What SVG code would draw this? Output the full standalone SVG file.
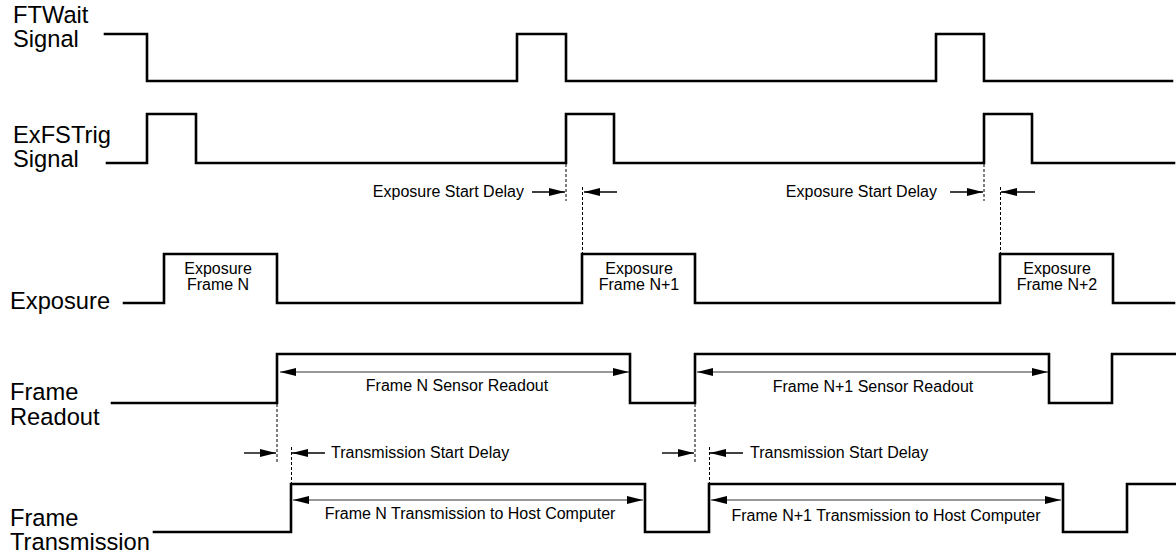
<svg xmlns="http://www.w3.org/2000/svg" width="1176" height="557" viewBox="0 0 1176 557">
<style>
.sig{fill:none;stroke:#000;stroke-width:2.6;stroke-linejoin:miter;stroke-linecap:square}
.dash{fill:none;stroke:#000;stroke-width:1;stroke-dasharray:3,2}
.dly{fill:none;stroke:#000;stroke-width:1.4}
.span{fill:none;stroke:#333;stroke-width:1.2}
.big{font-family:"Liberation Sans",Arial,sans-serif;font-size:23.7px;fill:#000}
.sm{font-family:"Liberation Sans",Arial,sans-serif;font-size:16px;fill:#000}
.mid{text-anchor:middle}
.end{text-anchor:end}
</style>
<defs>
<marker id="ah" viewBox="0 0 16 8" refX="16" refY="4" markerWidth="16" markerHeight="8" markerUnits="userSpaceOnUse" orient="auto-start-reverse">
<path d="M0,0 L16,4 L0,8 Z" fill="#000"/>
</marker>
</defs>
<g id="labels">
<text class="big" x="13" y="23">FTWait</text>
<text class="big" x="13" y="47">Signal</text>
<text class="big" x="13" y="143">ExFSTrig</text>
<text class="big" x="13" y="167">Signal</text>
<text class="big" x="10" y="309">Exposure</text>
<text class="big" x="10" y="400">Frame</text>
<text class="big" x="10" y="425">Readout</text>
<text class="big" x="10" y="526">Frame</text>
<text class="big" x="10" y="550">Transmission</text>
</g>
<g id="ftwait">
<path class="sig" d="M105,34 H147 V81 H517 V34 H566 V81 H936 V34 H984 V81 H1172"/>
</g>
<g id="exfstrig">
<path class="sig" d="M107,163 H147 V114 H196 V163 H566 V114 H614 V163 H984 V114 H1032 V163 H1174"/>
</g>
<g id="exposure">
<path class="sig" d="M124,303 H164 V254 H277 V303 H582 V254 H695 V303 H1000 V254 H1113 V303 H1174"/>
<text class="sm mid" x="218" y="274">Exposure</text>
<text class="sm mid" x="218" y="290">Frame N</text>
<text class="sm mid" x="639" y="274">Exposure</text>
<text class="sm mid" x="639" y="290">Frame N+1</text>
<text class="sm mid" x="1057" y="274">Exposure</text>
<text class="sm mid" x="1057" y="290">Frame N+2</text>
</g>
<g id="readout">
<path class="sig" d="M112,403 H277 V354 H630 V403 H695 V354 H1049 V403 H1112 V354 H1176"/>
<text class="sm mid" x="457" y="391">Frame N Sensor Readout</text>
<text class="sm mid" x="873" y="392">Frame N+1 Sensor Readout</text>
</g>
<g id="transmission">
<path class="sig" d="M154,532 H291 V484 H645 V532 H709 V484 H1063 V532 H1127 V484 H1176"/>
<text class="sm mid" x="470" y="519">Frame N Transmission to Host Computer</text>
<text class="sm mid" x="886" y="521">Frame N+1 Transmission to Host Computer</text>
</g>
<g id="delay-labels">
<text class="sm end" x="524" y="197">Exposure Start Delay</text>
<text class="sm end" x="937" y="197">Exposure Start Delay</text>
<text class="sm" x="331" y="458">Transmission Start Delay</text>
<text class="sm" x="750" y="458">Transmission Start Delay</text>
</g>
<g id="connectors">
<path class="dash" d="M566,164 V201"/>
<path class="dash" d="M582.5,187 V253"/>
<path class="dash" d="M984,164 V201"/>
<path class="dash" d="M1000.5,187 V253"/>
<path class="dash" d="M277,404 V462"/>
<path class="dash" d="M291.5,447 V483"/>
<path class="dash" d="M695,404 V462"/>
<path class="dash" d="M709.5,447 V483"/>
<path class="dly" d="M532,192 H565" marker-end="url(#ah)"/>
<path class="dly" d="M617,192 H584" marker-end="url(#ah)"/>
<path class="dly" d="M950,192 H983" marker-end="url(#ah)"/>
<path class="dly" d="M1035,192 H1001" marker-end="url(#ah)"/>
<path class="dly" d="M244,453 H276" marker-end="url(#ah)"/>
<path class="dly" d="M325,453 H292" marker-end="url(#ah)"/>
<path class="dly" d="M662,453 H694" marker-end="url(#ah)"/>
<path class="dly" d="M743,453 H710" marker-end="url(#ah)"/>
<path class="span" d="M280,372 H629" marker-start="url(#ah)" marker-end="url(#ah)"/>
<path class="span" d="M697,372 H1048" marker-start="url(#ah)" marker-end="url(#ah)"/>
<path class="span" d="M293,500 H643" marker-start="url(#ah)" marker-end="url(#ah)"/>
<path class="span" d="M711,500 H1061" marker-start="url(#ah)" marker-end="url(#ah)"/>
</g>
</svg>
